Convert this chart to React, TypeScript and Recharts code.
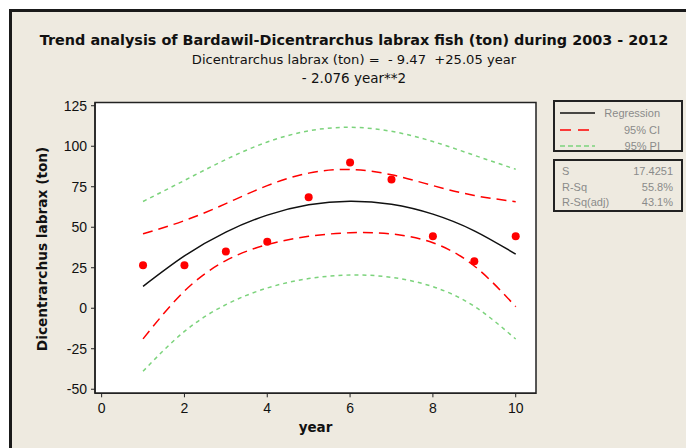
import React from "react";
import {
  ComposedChart,
  Line,
  Scatter,
  XAxis,
  YAxis,
  ReferenceArea,
} from "recharts";

// ---- data ----
const years = [1, 2, 3, 4, 5, 6, 7, 8, 9, 10];
const catchTon = [26.5, 26.5, 35, 41, 68.5, 90, 79.5, 44.5, 29, 44.5];
const regression = [13.5, 32.3, 47.0, 57.5, 63.9, 66.1, 64.2, 58.1, 47.8, 33.4];
const ci95Upper = [45.9, 54.1, 64.6, 75.7, 83.4, 85.6, 82.4, 75.7, 69.6, 65.8];
const ci95Lower = [-18.9, 10.6, 29.4, 39.3, 44.4, 46.6, 45.9, 40.4, 26.1, 1.0];
const pi95Upper = [65.9, 78.9, 91.8, 102.6, 109.5, 111.7, 109.2, 102.9, 94.4, 85.8];
const pi95Lower = [-38.9, -14.3, 2.2, 12.5, 18.3, 20.5, 19.1, 13.3, 1.2, -19.0];

const xTicks = [0, 2, 4, 6, 8, 10];
const yTicks = [-50, -25, 0, 25, 50, 75, 100, 125];
const xDomain: [number, number] = [-0.16, 10.49];
const yDomain: [number, number] = [-52.5, 127];

const titleText =
  "Trend analysis of Bardawil-Dicentrarchus labrax fish (ton) during 2003 - 2012";
const equationLine1 = "Dicentrarchus labrax (ton) =  - 9.47  +25.05 year";
const equationLine2 = "- 2.076 year**2";

const statLabels = ["S", "R-Sq", "R-Sq(adj)"];
const statValues = ["17.4251", "55.8%", "43.1%"];

const rows = years.map((y, i) => ({
  year: y,
  catch: catchTon[i],
  fit: regression[i],
  ciHi: ci95Upper[i],
  ciLo: ci95Lower[i],
  piHi: pi95Upper[i],
  piLo: pi95Lower[i],
}));

const BG = "#EEEAE0";
const RED = "#FF0000";
const GREEN = "#7CD37C";
const FONT = "'Liberation Sans', Arial, sans-serif";
const BOLDFONT = "'DejaVu Sans', 'Liberation Sans', sans-serif";

const XLabel = (props: any) => {
  const vb = props.viewBox || {};
  return (
    <text
      x={vb.x + vb.width / 2}
      y={vb.y + vb.height + 9}
      textAnchor="middle"
      fontFamily={BOLDFONT}
      fontWeight="bold"
      fontSize={13.5}
      fill="#111"
    >
      year
    </text>
  );
};

const YLabel = (props: any) => {
  const vb = props.viewBox || {};
  const cx = vb.x + 7;
  const cy = vb.y + vb.height / 2 + 1;
  return (
    <text
      x={cx}
      y={cy}
      transform={`rotate(-90 ${cx} ${cy})`}
      textAnchor="middle"
      dominantBaseline="central"
      fontFamily={BOLDFONT}
      fontWeight="bold"
      fontSize={13.7}
      fill="#111"
    >
      Dicentrarchus labrax (ton)
    </text>
  );
};

const Dot = (p: any) => <circle cx={p.cx} cy={p.cy} r={4} fill={RED} />;

const legendItems = [
  { label: "Regression", color: "#111", dash: "", width: 1.5 },
  { label: "95% CI", color: RED, dash: "11 7", width: 1.5 },
  { label: "95% PI", color: GREEN, dash: "5 3", width: 1.5 },
];

export default function App() {
  return (
    <div
      style={{
        position: "absolute",
        left: 0,
        top: 0,
        width: 686,
        height: 448,
        overflow: "hidden",
        background: "#fff",
      }}
    >
      <div
        style={{
          position: "absolute",
          left: 9,
          top: 9,
          width: 720,
          height: 480,
          border: "3px solid #1a1a1a",
          background: BG,
        }}
      />
      <div
        style={{
          position: "absolute",
          left: 0,
          top: 31,
          width: 708,
          textAlign: "center",
          color: "#111",
        }}
      >
        <div style={{ fontFamily: BOLDFONT, fontWeight: "bold", fontSize: 14.4, lineHeight: "19px" }}>
          {titleText}
        </div>
        <div style={{ fontFamily: BOLDFONT, fontSize: 13.1, lineHeight: "19px", whiteSpace: "pre" }}>
          {equationLine1}
        </div>
        <div style={{ fontFamily: BOLDFONT, fontSize: 13.5, lineHeight: "18px" }}>{equationLine2}</div>
      </div>

      <div style={{ position: "absolute", left: 0, top: 0 }}>
        <ComposedChart
          width={686}
          height={448}
          data={rows}
          margin={{ top: 102.5, right: 150, bottom: 24.7, left: 35 }}
        >
          <ReferenceArea
            x1={xDomain[0]}
            x2={xDomain[1]}
            y1={yDomain[0]}
            y2={yDomain[1]}
            fill="#fff"
            fillOpacity={1}
            stroke="#222"
            strokeWidth={1.5}
          />
          <XAxis
            dataKey="year"
            type="number"
            domain={xDomain}
            ticks={xTicks}
            allowDataOverflow
            height={30}
            tickSize={4}
            tickMargin={6}
            axisLine={{ stroke: "#222", strokeWidth: 1.5 }}
            tickLine={{ stroke: "#222" }}
            tick={{ fill: "#111", fontSize: 14, fontFamily: FONT }}
            label={<XLabel />}
          />
          <YAxis
            type="number"
            domain={yDomain}
            ticks={yTicks}
            allowDataOverflow
            width={60}
            tickSize={4}
            tickMargin={4}
            axisLine={{ stroke: "#222", strokeWidth: 1.5 }}
            tickLine={{ stroke: "#222" }}
            tick={{ fill: "#111", fontSize: 14, fontFamily: FONT }}
            label={<YLabel />}
          />
          <Line
            dataKey="piHi"
            type="natural"
            stroke={GREEN}
            strokeWidth={1.5}
            strokeDasharray="4 4"
            dot={false}
            activeDot={false}
            isAnimationActive={false}
          />
          <Line
            dataKey="piLo"
            type="natural"
            stroke={GREEN}
            strokeWidth={1.5}
            strokeDasharray="4 4"
            dot={false}
            activeDot={false}
            isAnimationActive={false}
          />
          <Line
            dataKey="ciHi"
            type="natural"
            stroke={RED}
            strokeWidth={1.5}
            strokeDasharray="10 6"
            dot={false}
            activeDot={false}
            isAnimationActive={false}
          />
          <Line
            dataKey="ciLo"
            type="natural"
            stroke={RED}
            strokeWidth={1.5}
            strokeDasharray="10 6"
            dot={false}
            activeDot={false}
            isAnimationActive={false}
          />
          <Line
            dataKey="fit"
            type="natural"
            stroke="#111"
            strokeWidth={1.5}
            dot={false}
            activeDot={false}
            isAnimationActive={false}
          />
          <Scatter dataKey="catch" shape={<Dot />} isAnimationActive={false} />
        </ComposedChart>
      </div>

      {/* legend box */}
      <div
        style={{
          position: "absolute",
          left: 553,
          top: 100,
          width: 126,
          height: 48,
          border: "2px solid #222",
          fontFamily: FONT,
          fontSize: 11,
          color: "#8a8a8a",
        }}
      >
        {legendItems.map((it, i) => (
          <div
            key={it.label}
            style={{ position: "absolute", left: 0, top: 3 + i * 16.5, width: 126, height: 16 }}
          >
            <svg width={40} height={16} style={{ position: "absolute", left: 3, top: 0 }}>
              <line
                x1={2}
                y1={8}
                x2={37}
                y2={8}
                stroke={it.color}
                strokeWidth={it.width}
                strokeDasharray={it.dash || undefined}
              />
            </svg>
            <div
              style={{
                position: "absolute",
                right: 21,
                top: 0,
                lineHeight: "16px",
                whiteSpace: "nowrap",
              }}
            >
              {it.label}
            </div>
          </div>
        ))}
      </div>

      {/* statistics box */}
      <div
        style={{
          position: "absolute",
          left: 553,
          top: 159,
          width: 126,
          height: 49,
          border: "2px solid #222",
          fontFamily: FONT,
          fontSize: 11,
          color: "#8a8a8a",
        }}
      >
        {statLabels.map((lab, i) => (
          <div
            key={lab}
            style={{ position: "absolute", left: 0, top: 3 + i * 15.5, width: 126, height: 15 }}
          >
            <div style={{ position: "absolute", left: 7, lineHeight: "15px" }}>{lab}</div>
            <div style={{ position: "absolute", right: 8, lineHeight: "15px" }}>{statValues[i]}</div>
          </div>
        ))}
      </div>
    </div>
  );
}
